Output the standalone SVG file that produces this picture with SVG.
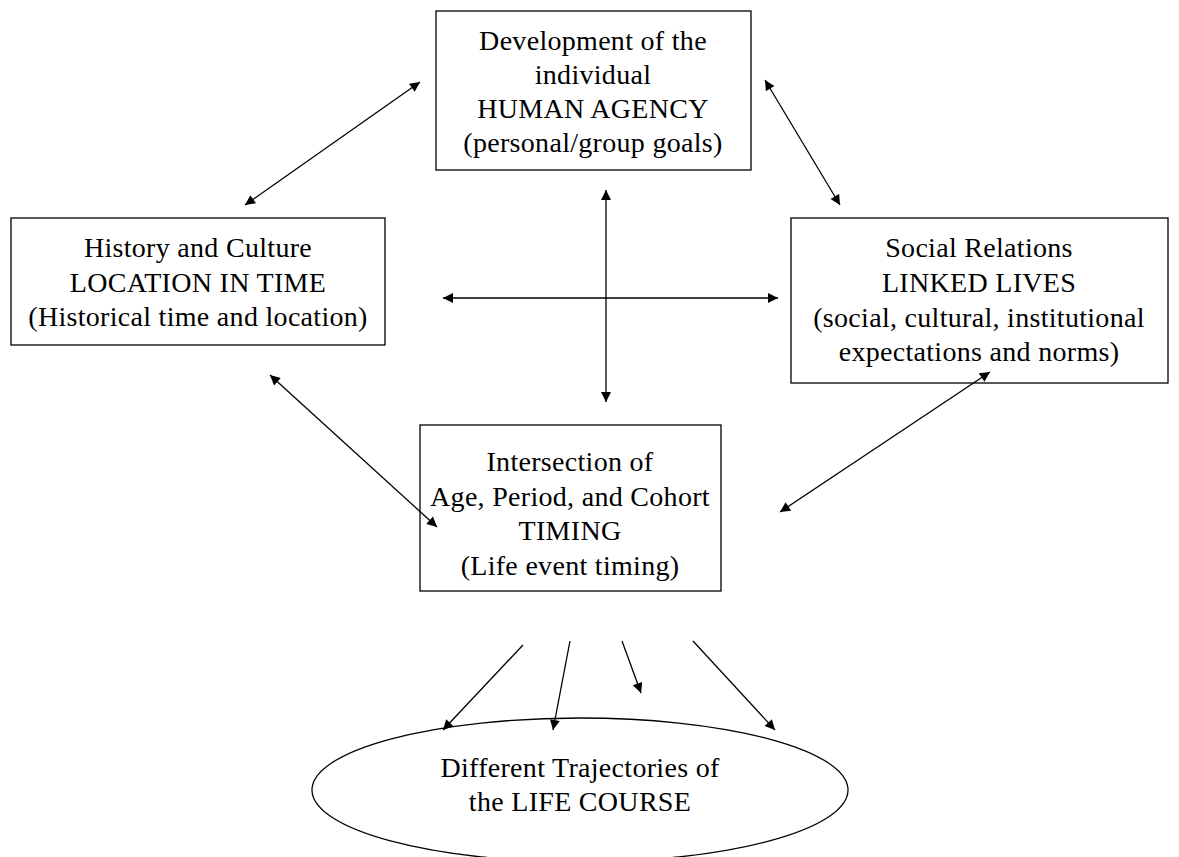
<svg xmlns="http://www.w3.org/2000/svg" width="1179" height="857" viewBox="0 0 1179 857">
<style>
.box{fill:#fff;stroke:#000;stroke-width:1.3}
.t{font-family:"Liberation Serif","Times New Roman",serif;font-size:28px;letter-spacing:0.3px;fill:#000;text-anchor:middle}
.c{stroke:#000;stroke-width:1.3;fill:none}
</style>
<defs>
<marker id="ah" viewBox="0 0 10 10" refX="10" refY="5" markerWidth="11" markerHeight="10" markerUnits="userSpaceOnUse" orient="auto-start-reverse">
<path d="M0,0 L10,5 L0,10 z" fill="#000"/>
</marker>
</defs>
<rect width="1179" height="857" fill="#fff"/>
<g id="agency">
<rect class="box" x="436" y="11" width="315" height="159"/>
<text class="t" x="593" y="50">Development of the</text>
<text class="t" x="593" y="84">individual</text>
<text class="t" x="593" y="118">HUMAN AGENCY</text>
<text class="t" x="593" y="152">(personal/group goals)</text>
</g>
<g id="history">
<rect class="box" x="11" y="218" width="374" height="127"/>
<text class="t" x="198" y="257">History and Culture</text>
<text class="t" x="198" y="292">LOCATION IN TIME</text>
<text class="t" x="198" y="326">(Historical time and location)</text>
</g>
<g id="social">
<rect class="box" x="791" y="218" width="377" height="165"/>
<text class="t" x="979" y="257">Social Relations</text>
<text class="t" x="979" y="292">LINKED LIVES</text>
<text class="t" x="979" y="327">(social, cultural, institutional</text>
<text class="t" x="979" y="361">expectations and norms)</text>
</g>
<g id="timing">
<rect class="box" x="420" y="425" width="301" height="166"/>
<text class="t" x="570" y="471">Intersection of</text>
<text class="t" x="570" y="506">Age, Period, and Cohort</text>
<text class="t" x="570" y="540">TIMING</text>
<text class="t" x="570" y="575">(Life event timing)</text>
</g>
<g id="lifecourse">
<ellipse class="box" cx="580" cy="790" rx="268" ry="72"/>
<text class="t" x="580" y="777">Different Trajectories of</text>
<text class="t" x="580" y="811">the LIFE COURSE</text>
</g>
<g id="connectors">
<line class="c" x1="420" y1="82" x2="245" y2="205" marker-start="url(#ah)" marker-end="url(#ah)"/>
<line class="c" x1="765" y1="80" x2="840" y2="205" marker-start="url(#ah)" marker-end="url(#ah)"/>
<line class="c" x1="606" y1="190" x2="606" y2="402" marker-start="url(#ah)" marker-end="url(#ah)"/>
<line class="c" x1="443" y1="298" x2="778" y2="298" marker-start="url(#ah)" marker-end="url(#ah)"/>
<line class="c" x1="270" y1="375" x2="437" y2="527" marker-start="url(#ah)" marker-end="url(#ah)"/>
<line class="c" x1="990" y1="372" x2="780" y2="512" marker-start="url(#ah)" marker-end="url(#ah)"/>
<line class="c" x1="523" y1="645" x2="443" y2="730" marker-end="url(#ah)"/>
<line class="c" x1="570" y1="641" x2="553" y2="730" marker-end="url(#ah)"/>
<line class="c" x1="622" y1="641" x2="641" y2="693" marker-end="url(#ah)"/>
<line class="c" x1="693" y1="641" x2="775" y2="730" marker-end="url(#ah)"/>
</g>
</svg>
